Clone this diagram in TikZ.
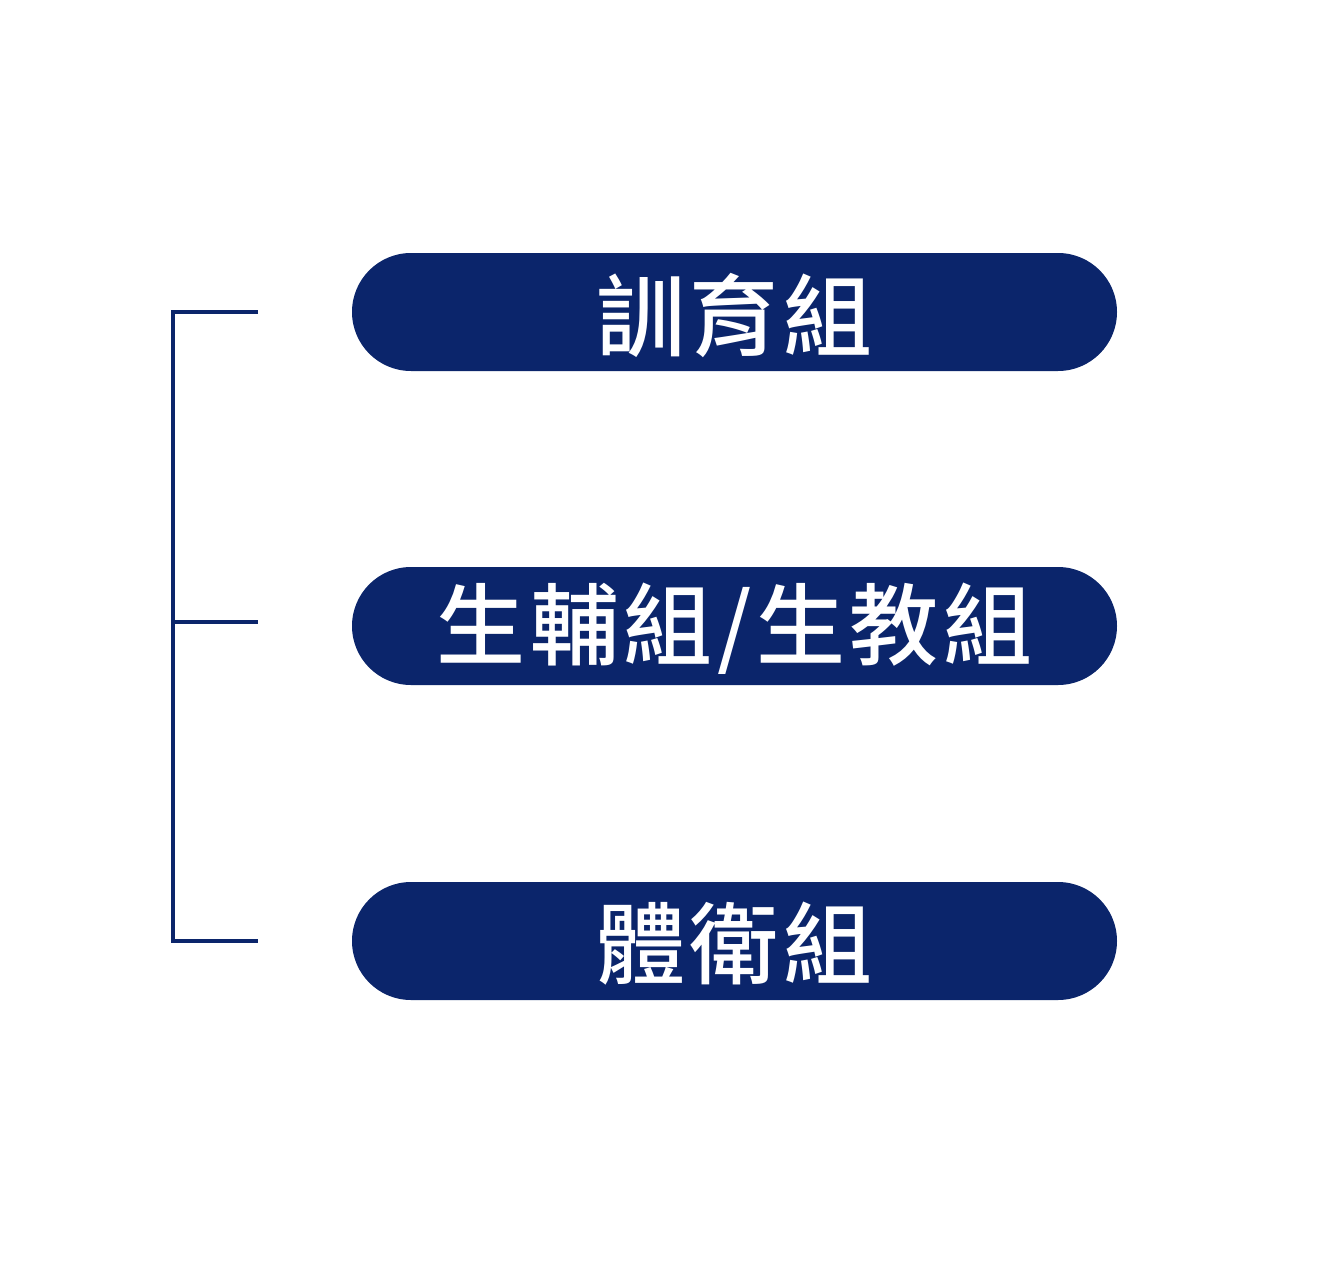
\documentclass[tikz,border=0pt]{standalone}
\usepackage{fontspec}
\newfontfamily\cjk[LetterSpace=5]{Noto Sans CJK TC Medium}
\definecolor{navy}{HTML}{0B256B}
\tikzset{
  pill/.style={fill=navy, draw=none, rounded corners=59pt, minimum width=765pt, minimum height=118pt, inner sep=0pt, text=white},
  label/.style={text=white, inner sep=0pt, font=\cjk\fontsize{89}{89}\selectfont},
  bracket/.style={draw=navy, line width=3.5pt}
}
\begin{document}
\begin{tikzpicture}[x=1pt,y=-1pt]
\useasboundingbox (0,0) rectangle (1342,1274);
\node[pill] (a) at (734.5,312) {};
\node[pill] (b) at (734.5,626) {};
\node[pill] (c) at (734.5,941) {};
\node[label] (la) at (734.5,315) {訓育組};
\node[label] (lb) at (734.5,629) {生輔組/生教組};
\node[label] (lc) at (734.5,944) {體衛組};
\coordinate (ta) at (258,312);
\coordinate (tb) at (258,622);
\coordinate (tc) at (258,941);
\draw[bracket] (ta) -- (173,312) -- (173,941) -- (tc);
\draw[bracket] (173,622) -- (tb);
\end{tikzpicture}
\end{document}
